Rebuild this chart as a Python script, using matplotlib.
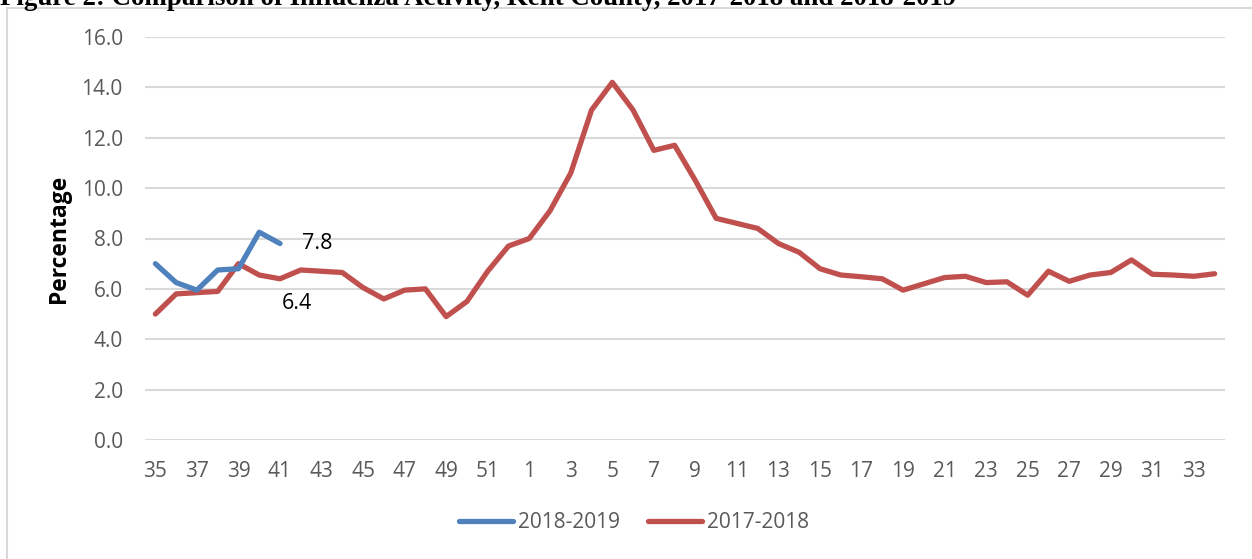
import matplotlib
matplotlib.use("Agg")
import matplotlib.pyplot as plt
import numpy as np
from matplotlib.patches import Rectangle

# surveillance weeks, season runs from week 35 through week 34
weeks = list(range(35, 53)) + list(range(1, 35))

# percent of visits for influenza-like illness, 2017-2018 season
pct_2017_2018 = [5.0, 5.8, 5.85, 5.9, 7.0, 6.55, 6.4, 6.75, 6.7, 6.65,
                 6.05, 5.6, 5.95, 6.0, 4.9, 5.5, 6.7, 7.7,
                 8.0, 9.1, 10.6, 13.1, 14.2, 13.1, 11.5, 11.7, 10.3, 8.8,
                 8.6, 8.4, 7.8, 7.45, 6.8, 6.55, 6.48, 6.4, 5.95, 6.2,
                 6.45, 6.5, 6.25, 6.28, 5.75, 6.7, 6.3, 6.55, 6.65, 7.15,
                 6.58, 6.55, 6.5, 6.6]

# 2018-2019 season so far (weeks 35-41)
pct_2018_2019 = [7.0, 6.25, 5.95, 6.75, 6.8, 8.25, 7.8]

BLUE = "#4F81BD"
RED = "#C0504D"
GREY_TXT = "#595959"
GRID = "#d9d9d9"

plt.rcParams["font.family"] = ["Open Sans", "DejaVu Sans"]

fig = plt.figure(figsize=(12.52, 5.59), dpi=100)
W, H = 1252, 559
ax = fig.add_axes([145 / W, 1 - 440 / H, 1080 / W, 403 / H])

x = np.arange(len(weeks))
x_new = np.arange(len(pct_2018_2019))

ln_new, = ax.plot(x_new, pct_2018_2019, color=BLUE, lw=3.8,
                  solid_capstyle="round", solid_joinstyle="round",
                  label="2018-2019", zorder=3)
ln_old, = ax.plot(x, pct_2017_2018, color=RED, lw=3.8,
                  solid_capstyle="round", solid_joinstyle="round",
                  label="2017-2018", zorder=2)

# latest week values
last = len(pct_2018_2019) - 1
ax.annotate(f"{pct_2018_2019[last]:.1f}", xy=(last, pct_2018_2019[last]),
            xytext=(22, 0), textcoords="offset pixels",
            ha="left", va="center", fontsize=15.5, color="black")
ax.annotate(f"{pct_2017_2018[last]:.1f}", xy=(last, pct_2017_2018[last]),
            xytext=(2, -25), textcoords="offset pixels",
            ha="left", va="center", fontsize=15.5, color="black")

ax.set_xlim(-0.5, len(weeks) - 0.5)
ax.set_ylim(0, 16)
ax.set_yticks(np.arange(0, 16.1, 2))
ax.set_yticklabels([f"{v:.1f}" for v in np.arange(0, 16.1, 2)])
ax.set_xticks(x[::2])
ax.set_xticklabels([str(w) for w in weeks[::2]])
ax.tick_params(axis="both", length=0, labelsize=15, labelcolor=GREY_TXT)
ax.tick_params(axis="y", pad=16)
ax.tick_params(axis="x", pad=15)
ax.grid(axis="y", color=GRID, lw=1.5)
ax.set_axisbelow(True)
for s in ax.spines.values():
    s.set_visible(False)

ax.set_ylabel("Percentage", fontsize=16.5, fontweight="bold", color="black")
ax.yaxis.set_label_coords(-74 / 1080, 0.5)

fig.legend(handles=[ln_new, ln_old], loc="center",
           bbox_to_anchor=(634 / W, 1 - 523 / H), ncol=2, frameon=False,
           fontsize=15, labelcolor=GREY_TXT, handlelength=2.6,
           handletextpad=0.25, columnspacing=1.35)

# chart frame
fig.patches.append(Rectangle((7 / W, -0.1), 1.2, 1 - 7.5 / H + 0.1,
                             transform=fig.transFigure, fill=False,
                             edgecolor=GRID, lw=1.5))

fig.text(0, 1 - 5 / H,
         "Figure 2: Comparison of Influenza Activity, Kent County, "
         "2017-2018 and 2018-2019",
         family=["Liberation Serif"], fontweight="bold", fontsize=19.4,
         ha="left", va="baseline")

fig.savefig("out.png", dpi=100)
